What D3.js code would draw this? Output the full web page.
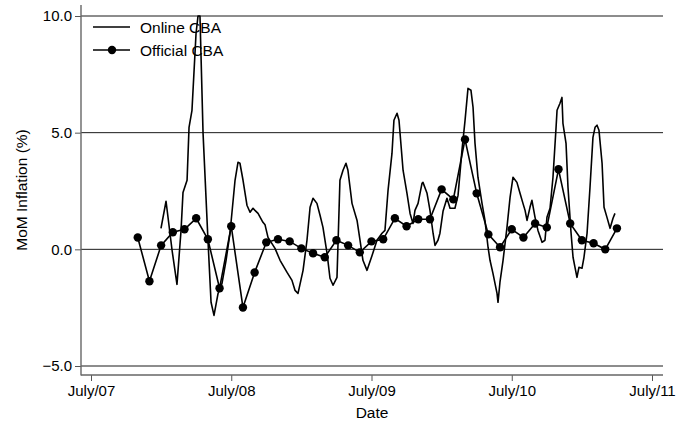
<!DOCTYPE html>
<html>
<head>
<meta charset="utf-8">
<script src="https://cdn.jsdelivr.net/npm/d3@7"></script>
<style>
	body { margin: 0; background: #fff; }
	svg { display: block; font-family: 'Liberation Sans', Arial, sans-serif; }
</style>
</head>
<body>
<svg id="chart" width="678" height="426"></svg>
<script>
// official CBA, monthly
const officialMonths = [
	'2007-11', '2007-12',
	'2008-01', '2008-02', '2008-03', '2008-04', '2008-05', '2008-06', '2008-07', '2008-08', '2008-09', '2008-10', '2008-11', '2008-12',
	'2009-01', '2009-02', '2009-03', '2009-04', '2009-05', '2009-06', '2009-07', '2009-08', '2009-09', '2009-10', '2009-11', '2009-12',
	'2010-01', '2010-02', '2010-03', '2010-04', '2010-05', '2010-06', '2010-07', '2010-08', '2010-09', '2010-10', '2010-11', '2010-12',
	'2011-01', '2011-02', '2011-03', '2011-04'
];
const officialValues = [
	0.51, -1.37,
	0.17, 0.73, 0.86, 1.33, 0.43, -1.67, 0.99, -2.49, -0.99, 0.30, 0.43, 0.34,
	0.04, -0.17, -0.34, 0.39, 0.17, -0.13, 0.34, 0.43, 1.33, 0.99, 1.29, 1.29,
	2.57, 2.14, 4.71, 2.40, 0.64, 0.09, 0.86, 0.51, 1.11, 0.94, 3.43, 1.11,
	0.39, 0.26, 0.00, 0.90
];

// online CBA, time in decimal years
const onlineTime = [
	2007.999, 2008.035, 2008.078, 2008.113, 2008.142, 2008.156, 2008.185, 2008.199, 2008.220, 2008.249,
	2008.263, 2008.277, 2008.299, 2008.334, 2008.356, 2008.377, 2008.406, 2008.434, 2008.463, 2008.491,
	2008.527, 2008.548, 2008.562, 2008.584, 2008.612, 2008.634, 2008.655, 2008.669, 2008.691, 2008.726,
	2008.741, 2008.762, 2008.812, 2008.848, 2008.898, 2008.933, 2008.955, 2008.976, 2009.012, 2009.040,
	2009.062, 2009.083, 2009.111, 2009.133, 2009.154, 2009.183, 2009.204, 2009.226, 2009.254, 2009.275,
	2009.297, 2009.318, 2009.332, 2009.361, 2009.397, 2009.418, 2009.439, 2009.468, 2009.504, 2009.539,
	2009.575, 2009.596, 2009.618, 2009.646, 2009.660, 2009.682, 2009.696, 2009.725, 2009.753, 2009.775,
	2009.796, 2009.810, 2009.832, 2009.860, 2009.867, 2009.896, 2009.917, 2009.939, 2009.953, 2009.974,
	2009.988, 2010.010, 2010.038, 2010.060, 2010.095, 2010.117, 2010.145, 2010.167, 2010.188, 2010.209,
	2010.224, 2010.238, 2010.259, 2010.288, 2010.309, 2010.331, 2010.345, 2010.366, 2010.395, 2010.402,
	2010.416, 2010.438, 2010.466, 2010.488, 2010.509, 2010.537, 2010.559, 2010.580, 2010.595, 2010.609,
	2010.630, 2010.644, 2010.666, 2010.687, 2010.716, 2010.737, 2010.751, 2010.773, 2010.794, 2010.816,
	2010.823, 2010.844, 2010.858, 2010.865, 2010.887, 2010.901, 2010.923, 2010.937, 2010.951, 2010.965,
	2010.979, 2011.001, 2011.015, 2011.037, 2011.058, 2011.079, 2011.094, 2011.108, 2011.122, 2011.144,
	2011.158, 2011.179, 2011.201, 2011.222, 2011.236
];
const onlineValues = [
	0.90, 2.06, -0.04, -1.50, 0.81, 2.44, 2.96, 5.23, 5.96, 9.26,
	10.0, 10.0, 4.97, 0.39, -2.27, -2.83, -1.89, -1.46, -0.47, 0.69,
	2.96, 3.73, 3.69, 2.96, 1.89, 1.59, 1.76, 1.67, 1.54, 1.16,
	1.05, 0.51, 0.04, -0.47, -0.99, -1.33, -1.76, -1.89, -0.90, 0.39,
	1.80, 2.19, 1.97, 1.46, 0.94, -0.17, -1.24, -1.54, -1.20, 2.96,
	3.39, 3.69, 3.39, 1.97, 1.24, 0.39, -0.47, -0.90, -0.26, 0.39,
	0.69, 0.81, 2.53, 4.11, 5.53, 5.83, 5.53, 3.39, 2.40, 1.54,
	1.11, 1.67, 1.97, 2.83, 2.87, 2.40, 1.67, 0.69, 0.17, 0.39,
	0.69, 1.63, 2.19, 1.76, 1.76, 2.31, 4.24, 5.53, 6.90, 6.82,
	6.09, 4.54, 3.09, 1.97, 1.24, 0.09, -0.47, -1.03, -1.89, -2.27,
	-1.41, -0.47, 0.94, 2.23, 3.09, 2.87, 2.40, 1.97, 1.67, 1.24,
	1.80, 2.10, 1.37, 0.81, 0.30, 0.39, 1.37, 1.76, 3.09, 5.23,
	5.96, 6.26, 6.51, 5.40, 4.54, 2.66, 0.69, -0.34, -0.77, -1.20,
	-0.77, -0.81, -0.34, 0.69, 2.66, 4.80, 5.23, 5.32, 5.10, 3.69,
	1.80, 1.37, 0.90, 1.33, 1.54
];

const yTicks		= [-5, 0, 5, 10];
const xTicks		= [2007.5, 2008.5, 2009.5, 2010.5, 2011.5];
const xTickLabels	= ['July/07', 'July/08', 'July/09', 'July/10', 'July/11'];
const seriesNames	= ['Online CBA', 'Official CBA'];

let svg		= d3.select('#chart');
let frame	= { left: 81, right: 663, top: 5, bottom: 375 };

let x = d3.scaleLinear().domain([2007.5, 2011.5]).range([91, 652]);
let y = d3.scaleLinear().domain([-5, 10]).range([366, 16]);

let official	= officialMonths.map((m, i) => ({ t: +m.slice(0, 4) + (+m.slice(5) - 1) / 12, v: officialValues[i] }));
let online		= onlineTime.map((t, i) => ({ t: t, v: onlineValues[i] }));

// gridlines
svg.append('g').selectAll('line').data(yTicks).join('line')
	.attr('x1', frame.left).attr('x2', frame.right)
	.attr('y1', d => y(d)).attr('y2', d => y(d))
	.attr('stroke', '#1a1a1a').attr('stroke-width', 1);

// axes
let yAxis = svg.append('g').attr('transform', 'translate(' + frame.left + ',0)')
	.call(d3.axisLeft(y).tickValues(yTicks).tickSize(6).tickPadding(3).tickFormat(d3.format('.1f')));
let xAxis = svg.append('g').attr('transform', 'translate(0,' + frame.bottom + ')')
	.call(d3.axisBottom(x).tickValues(xTicks).tickSize(6).tickPadding(4).tickFormat((d, i) => xTickLabels[i]));

[yAxis, xAxis].forEach((a) => {
	a.select('.domain').remove();
	a.selectAll('.tick line').attr('stroke', '#555');
	a.selectAll('.tick text').attr('fill', '#000').style('font-size', '15px').style('font-family', 'inherit');
});

svg.append('line').attr('x1', frame.left).attr('x2', frame.left).attr('y1', frame.top).attr('y2', frame.bottom + 0.5)
	.attr('stroke', '#666').attr('stroke-width', 1.4);
svg.append('line').attr('x1', frame.left).attr('x2', frame.right).attr('y1', frame.bottom).attr('y2', frame.bottom)
	.attr('stroke', '#666').attr('stroke-width', 1.4);

// titles
svg.append('text').attr('transform', 'translate(27,' + ((frame.top + frame.bottom) / 2) + ') rotate(-90)')
	.attr('text-anchor', 'middle').style('font-size', '15.5px').text('MoM Inflation (%)');
svg.append('text').attr('x', (frame.left + frame.right) / 2).attr('y', 418)
	.attr('text-anchor', 'middle').style('font-size', '15.5px').text('Date');

// series
let line = d3.line().x(d => x(d.t)).y(d => y(d.v));

svg.append('path').datum(online).attr('d', line)
	.attr('fill', 'none').attr('stroke', '#000').attr('stroke-width', 1.6).attr('stroke-linejoin', 'round');

svg.append('path').datum(official).attr('d', line)
	.attr('fill', 'none').attr('stroke', '#000').attr('stroke-width', 1.6);
svg.append('g').selectAll('circle').data(official).join('circle')
	.attr('cx', d => x(d.t)).attr('cy', d => y(d.v)).attr('r', 4.2).attr('fill', '#000');

// legend
let legend = svg.append('g').attr('transform', 'translate(93,27)');
seriesNames.forEach((name, i) => {
	let row = legend.append('g').attr('transform', 'translate(0,' + (i * 23) + ')');
	row.append('line').attr('x1', 0).attr('x2', 37).attr('stroke', '#000').attr('stroke-width', 1.6);
	if (i == 1) row.append('circle').attr('cx', 19).attr('r', 4.2).attr('fill', '#000');
	row.append('text').attr('x', 47).attr('dy', '0.36em').style('font-size', '15.5px').text(name);
});
</script>
</body>
</html>
